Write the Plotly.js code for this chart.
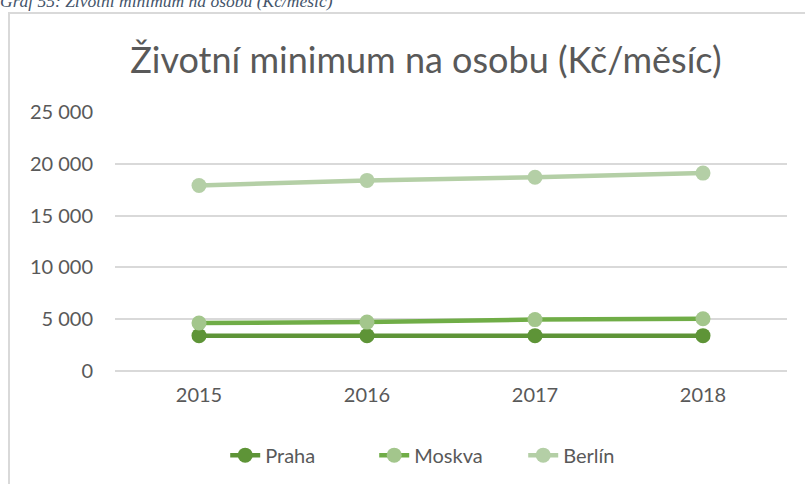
<!DOCTYPE html>
<html>
<head>
<meta charset="utf-8">
<script src="https://cdn.plot.ly/plotly-3.0.1.min.js"></script>
<style>
  html, body { margin: 0; padding: 0; background: #ffffff; overflow: hidden; }
  #wrap { position: relative; width: 805px; height: 484px; }
  #chart { position: absolute; left: 0; top: 0; width: 805px; height: 484px; }
  #frame { position: absolute; left: 8px; top: 12px; width: 820px; height: 520px;
           border: 2px solid #D9D9D9; box-sizing: border-box; pointer-events: none; }
  #caption { position: absolute; left: 0px; top: -9px; font-family: "Liberation Serif", serif;
             font-style: italic; font-size: 17.5px; color: #44546A; white-space: nowrap; }
</style>
</head>
<body>
<div id="wrap">
  <div id="chart"></div>
  <div id="frame"></div>
  <div id="caption">Graf 55: Životní minimum na osobu (Kč/měsíc)</div>
</div>
<script>
const years = ["2015", "2016", "2017", "2018"];
const praha = [3410, 3410, 3410, 3410];
const moskva = [4630, 4720, 4960, 5050];
const berlin = [17900, 18400, 18700, 19100];
const seriesNames = ["Praha", "Moskva", "Berlín"];
const yTicks = [0, 5000, 10000, 15000, 20000, 25000];

const FONT = "Lato, 'Open Sans', sans-serif";
const GREY = "#595959";

const traces = [
  { x: years, y: praha, name: seriesNames[0], type: "scatter", mode: "lines+markers",
    line: { color: "#5E9437", width: 4.5 }, marker: { color: "#5E9437", size: 15 } },
  { x: years, y: moskva, name: seriesNames[1], type: "scatter", mode: "lines+markers",
    line: { color: "#70AD47", width: 4.5 }, marker: { color: "#A3C68C", size: 15 } },
  { x: years, y: berlin, name: seriesNames[2], type: "scatter", mode: "lines+markers",
    line: { color: "#B4CFA6", width: 4.5 }, marker: { color: "#B4CFA6", size: 15 } }
];

const layout = {
  width: 805, height: 484,
  margin: { l: 115, r: 18, t: 112, b: 113, autoexpand: false },
  paper_bgcolor: "rgba(0,0,0,0)",
  plot_bgcolor: "rgba(0,0,0,0)",
  separators: ", ",
  font: { family: FONT, color: GREY },
  title: { text: "Životní minimum na osobu (Kč/měsíc)", font: { family: FONT, size: 36, color: GREY },
           x: 0.529, xanchor: "center", xref: "container", y: 0.875, yanchor: "middle", yref: "container" },
  xaxis: { type: "category", range: [-0.5, 3.5], showgrid: false, zeroline: false, showline: false,
           ticks: "", tickfont: { family: FONT, size: 20, color: GREY }, ticklabelstandoff: 10 },
  yaxis: { range: [0, 25000], tickvals: yTicks, tickformat: ",d", showgrid: true,
           gridcolor: "#D9D9D9", gridwidth: 2, zeroline: true, zerolinecolor: "#D9D9D9", zerolinewidth: 2,
           showline: false, ticks: "", tickfont: { family: FONT, size: 20, color: GREY }, ticklabelstandoff: 21 },
  legend: { orientation: "h", x: 0.164, xanchor: "left", y: -0.325, yanchor: "middle",
            entrywidth: 104, entrywidthmode: "pixels",
            font: { family: FONT, size: 20, color: GREY }, itemclick: false },
  showlegend: true
};

Plotly.newPlot("chart", traces, layout, { displayModeBar: false, staticPlot: true });
</script>
</body>
</html>
